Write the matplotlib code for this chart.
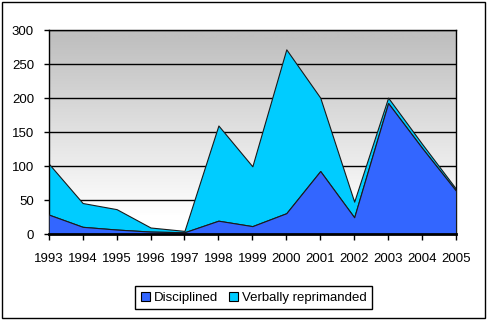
import numpy as np
import matplotlib
matplotlib.use('Agg')
from matplotlib import pyplot as plt
from matplotlib import patches
from matplotlib.patches import Patch

years = ['1993', '1994', '1995', '1996', '1997', '1998', '1999',
         '2000', '2001', '2002', '2003', '2004', '2005']
disciplined = [29, 11, 7, 4, 3, 20, 12, 31, 93, 25, 193, 127, 64]
verbally = [75, 35, 30, 6, 2, 140, 88, 241, 108, 23, 8, 6, 3]

plt.rcParams['font.family'] = ['Liberation Sans', 'DejaVu Sans']
plt.rcParams['font.size'] = 9.5

fig = plt.figure(figsize=(4.87, 3.22), dpi=100)
ax = fig.add_axes([48.7 / 487, 1 - 234.3 / 322, (456 - 48.7) / 487, (234.3 - 30.3) / 322])

x = np.arange(len(years))
# gradient background: grey at top, white towards bottom
grad = np.clip(np.linspace(1.1, -0.05, 256), 0, 1).reshape(-1, 1)
cmap = matplotlib.colors.LinearSegmentedColormap.from_list('g', ['#c0c0c0', '#ffffff'])
ax.imshow(grad, cmap=cmap, vmin=0, vmax=1, origin='lower',
          extent=[x[0], x[-1], 0, 300], aspect='auto', zorder=0)

for v in range(50, 301, 50):
    ax.axhline(v, color='black', lw=1, zorder=1)

total = np.array(disciplined) + np.array(verbally)
ax.fill_between(x, disciplined, total, facecolor='#00ccff', edgecolor='#1a1a1a', lw=0.8, zorder=2)
ax.fill_between(x, 0, disciplined, facecolor='#3366ff', edgecolor='#1a1a1a', lw=0.8, zorder=3)

ax.set_xlim(x[0], x[-1])
ax.set_ylim(0, 300)
ax.set_xticks(x)
ax.set_xticklabels(years)
ax.set_yticks(range(0, 301, 50))
ax.tick_params(axis='x', length=4.5, width=1, pad=9)
ax.tick_params(axis='y', length=3.6, width=1, pad=7)
for s in ['left', 'right', 'top']:
    ax.spines[s].set_linewidth(1)
ax.spines['bottom'].set_linewidth(2)
ax.spines['bottom'].set_zorder(5)

handles = [Patch(facecolor='#3366ff', edgecolor='black', lw=0.8, label='Disciplined'),
           Patch(facecolor='#00ccff', edgecolor='black', lw=0.8, label='Verbally reprimanded')]
leg = fig.legend(handles=handles, loc='center', bbox_to_anchor=(0.521, 0.0755), ncol=2,
                 frameon=True, fancybox=False, edgecolor='black', framealpha=1,
                 handlelength=0.7, handleheight=0.7, handletextpad=0.3, columnspacing=0.8,
                 borderpad=0.4, fontsize=9.5)
leg.get_frame().set_linewidth(1)

fig.patches.append(patches.Rectangle((2 / 487, 4 / 322), 483 / 487, 316 / 322,
                                     transform=fig.transFigure, fill=False,
                                     edgecolor='black', lw=1))

fig.savefig('out.png', dpi=100)
